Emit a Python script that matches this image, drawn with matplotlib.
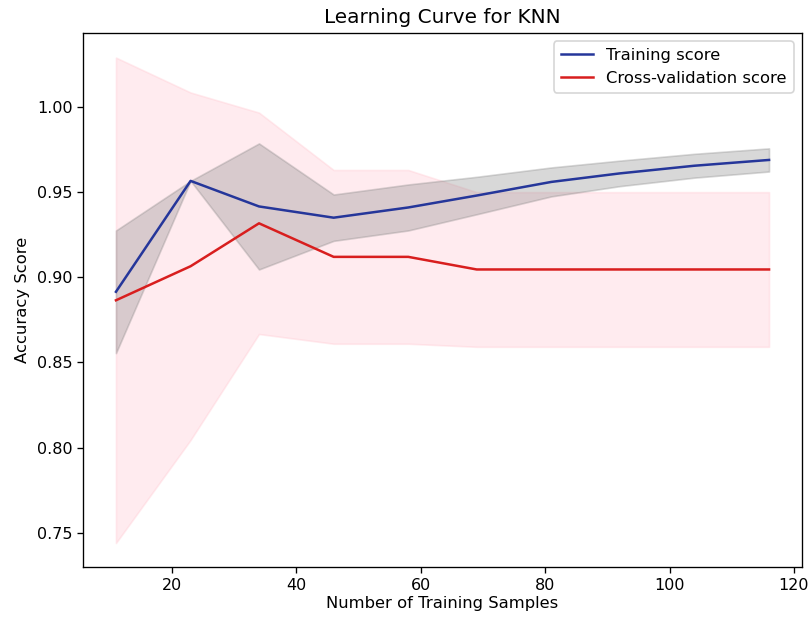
import numpy as np
import matplotlib
matplotlib.use("Agg")
import matplotlib.pyplot as plt

train_sizes = [11, 23, 34, 46, 58, 69, 81, 92, 104, 116]
train_mean = [0.8915, 0.9566, 0.9416, 0.935, 0.941, 0.948, 0.956, 0.961, 0.9655, 0.9689]
train_std = [0.036, 0.0, 0.037, 0.0136, 0.0135, 0.011, 0.0085, 0.0075, 0.007, 0.0068]
cv_mean = [0.8865, 0.9065, 0.9317, 0.912, 0.912, 0.9046, 0.9046, 0.9046, 0.9046, 0.9046]
cv_std = [0.1425, 0.102, 0.065, 0.051, 0.051, 0.0454, 0.0454, 0.0454, 0.0454, 0.0454]

x = np.array(train_sizes)
tm = np.array(train_mean); ts = np.array(train_std)
cm = np.array(cv_mean); cs = np.array(cv_std)

DPI = 120
fig = plt.figure(figsize=(809 / DPI, 618 / DPI), dpi=DPI)
ax = fig.add_axes([83.3 / 809, 1 - 567.3 / 618, 718.4 / 809, 534.0 / 618])

ax.fill_between(x, cm - cs, cm + cs, color="pink", alpha=0.3)
ax.fill_between(x, tm - ts, tm + ts, color="gray", alpha=0.3)
ax.plot(x, tm, color="#25369a", label="Training score")
ax.plot(x, cm, color="#d81e1e", label="Cross-validation score")

ax.tick_params(labelsize=9.6, pad=3)
ax.set_title("Learning Curve for KNN")
ax.set_xlabel("Number of Training Samples", fontsize=9.8, labelpad=1.5)
ax.set_ylabel("Accuracy Score", fontsize=9.8)
ax.legend(loc="upper right", fontsize=9.8)

fig.savefig("out.png", dpi=DPI)
